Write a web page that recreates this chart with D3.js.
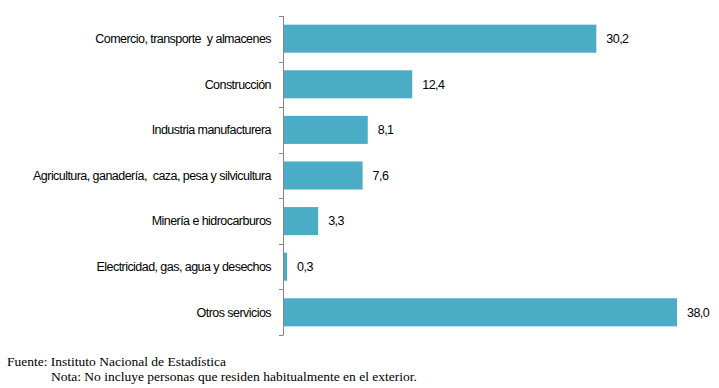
<!DOCTYPE html>
<html><head><meta charset="utf-8">
<script src="https://cdn.jsdelivr.net/npm/d3@7"></script>
<style>body{margin:0;background:#fff}svg{display:block}</style>
</head><body>
<script>
const categories = ["Comercio, transporte  y almacenes","Construcción","Industria manufacturera","Agricultura, ganadería,  caza, pesa y silvicultura","Minería e hidrocarburos","Electricidad, gas, agua y desechos","Otros servicios"];
const values = [30.2, 12.4, 8.1, 7.6, 3.3, 0.3, 38.0];
const valueLabels = ["30,2","12,4","8,1","7,6","3,3","0,3","38,0"];
const source = "Fuente: Instituto Nacional de Estadística";
const note = "Nota: No incluye personas que residen habitualmente en el exterior.";

const W = 719, H = 388;
const svg = d3.select("body").append("svg").attr("width", W).attr("height", H);
const x = d3.scaleLinear().domain([0, 38]).range([284, 677]);
const y = d3.scaleBand().domain(categories).range([16, 335]).paddingInner(0.385).paddingOuter(0.19);

svg.selectAll("rect.bar").data(values).enter().append("rect")
  .attr("x", x(0)).attr("y", (d,i)=>y(categories[i]))
  .attr("width", d=>x(d)-x(0)).attr("height", y.bandwidth())
  .attr("fill", "#4BACC6");

const ax = svg.append("g").attr("transform", "translate(283.5,0)")
  .call(d3.axisLeft(y).tickSize(0).tickFormat(""));
ax.select(".domain").attr("stroke", "#868686").attr("d", "M0,16V335");
const bounds = d3.range(categories.length + 1).map(i => 16 + i * (335 - 16) / categories.length);
svg.selectAll("line.tk").data(bounds).enter().append("line")
  .attr("x1", 279).attr("x2", 283.5).attr("y1", d=>Math.round(d)+0.5).attr("y2", d=>Math.round(d)+0.5)
  .attr("stroke", "#868686");

svg.selectAll("text.cat").data(categories).enter().append("text")
  .attr("x", 271).attr("y", d=>y(d)+y.bandwidth()/2).attr("dy", "0.35em")
  .attr("text-anchor", "end").attr("font-family", "Liberation Sans, Arial, sans-serif")
  .attr("font-size", 12.5).attr("letter-spacing", -0.55).attr("fill", "#000")
  .attr("xml:space","preserve")
  .text(d=>d);

svg.selectAll("text.val").data(values).enter().append("text")
  .attr("x", d=>x(d)+10).attr("y", (d,i)=>y(categories[i])+y.bandwidth()/2).attr("dy", "0.35em")
  .attr("font-family", "Liberation Sans, Arial, sans-serif")
  .attr("font-size", 12.5).attr("letter-spacing", -0.55).attr("fill", "#000")
  .text((d,i)=>valueLabels[i]);

svg.append("text").attr("x", 7).attr("y", 366).attr("font-family", "Liberation Serif, Times New Roman, serif")
  .attr("font-size", 13.5).text(source);
svg.append("text").attr("x", 51).attr("y", 381).attr("font-family", "Liberation Serif, Times New Roman, serif")
  .attr("font-size", 13.5).text(note);
</script>
</body></html>
